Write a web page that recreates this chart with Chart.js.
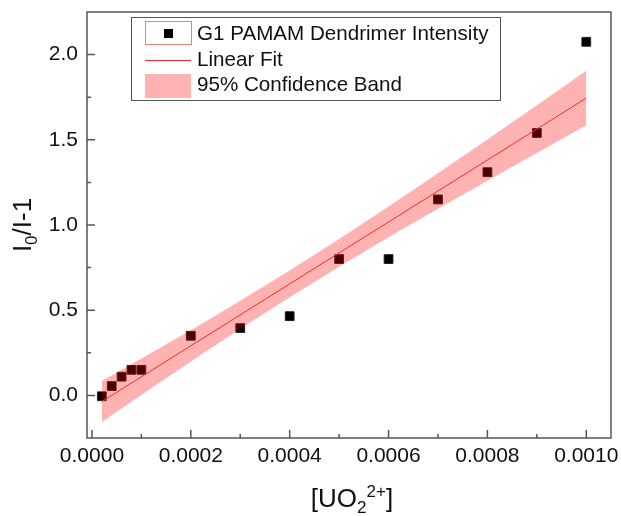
<!DOCTYPE html>
<html>
<head>
<meta charset="utf-8">
<script src="https://cdn.jsdelivr.net/npm/chart.js@4.4.1/dist/chart.umd.min.js"></script>
<style>
  body { margin: 0; background: #fff; }
</style>
</head>
<body>
<canvas id="chart" width="621" height="516"></canvas>
<script>
// values
const conc = [0.00002, 0.00004, 0.00006, 0.00008, 0.0001, 0.0002, 0.0003, 0.0004, 0.0005, 0.0006, 0.0007, 0.0008, 0.0009, 0.001];
const intensity = [-0.005, 0.055, 0.11, 0.15, 0.15, 0.35, 0.395, 0.465, 0.80, 0.80, 1.15, 1.31, 1.54, 2.075];

// linear fit end points
const fitX = [0.00002, 0.001];
const fitY = [-0.036, 1.745];

// 95% confidence band edges
const bandX = [0.00002, 0.0001, 0.0002, 0.0003, 0.0004, 0.0005, 0.0006, 0.0007, 0.0008, 0.0009, 0.001];
const bandUpper = [0.084, 0.216, 0.383, 0.555, 0.733, 0.918, 1.108, 1.304, 1.502, 1.703, 1.905];
const bandLower = [-0.156, 0.003, 0.199, 0.391, 0.576, 0.755, 0.928, 1.095, 1.260, 1.423, 1.585];

const xTicks = [0, 0.0002, 0.0004, 0.0006, 0.0008, 0.001];
const yTicks = [0, 0.5, 1.0, 1.5, 2.0];
const legendLabels = ["G1 PAMAM Dendrimer Intensity", "Linear Fit", "95% Confidence Band"];

const pts = (xs, ys) => xs.map((x, i) => ({ x: x, y: ys[i] }));

const FONT = "'Liberation Sans', Arial, sans-serif";
const BAND = "rgba(255,0,0,0.3)";
Chart.defaults.font.family = FONT;

// no extra room for end labels, the frame is fixed
const noPad = s => { s.paddingTop = 0; s.paddingBottom = 0; s.paddingLeft = 0; s.paddingRight = 0; };

// frame, inward ticks, axis titles and legend box
const decor = {
  id: "decor",
  afterDraw(c) {
    const { ctx, chartArea: a, scales: { x, y } } = c;
    ctx.save();

    // ticks
    ctx.strokeStyle = "#555";
    ctx.lineWidth = 1.5;
    ctx.beginPath();
    for (let i = 0; i <= 10; i++) {
      const px = x.getPixelForValue(i * 0.0001);
      const len = i % 2 ? 4 : 8;
      ctx.moveTo(px, a.bottom);
      ctx.lineTo(px, a.bottom - len);
    }
    for (let i = 0; i <= 8; i++) {
      const py = y.getPixelForValue(i * 0.25);
      const len = i % 2 ? 4 : 8;
      ctx.moveTo(a.left, py);
      ctx.lineTo(a.left + len, py);
    }
    ctx.stroke();
    ctx.strokeRect(a.left, a.top, a.right - a.left, a.bottom - a.top);

    // x title: [UO2 2+]
    ctx.fillStyle = "#111";
    ctx.textBaseline = "alphabetic";
    ctx.textAlign = "left";
    const big = "26px " + FONT, small = "17px " + FONT;
    ctx.font = big;
    const w1 = ctx.measureText("[UO").width, w4 = ctx.measureText("]").width;
    ctx.font = small;
    const w2 = ctx.measureText("2").width, w3 = ctx.measureText("2+").width;
    let tx = (a.left + a.right) / 2 + 3 - (w1 + w2 + w3 + w4) / 2;
    const by = 507;
    ctx.font = big; ctx.fillText("[UO", tx, by); tx += w1;
    ctx.font = small; ctx.fillText("2", tx, by + 6); tx += w2;
    ctx.fillText("2+", tx, by - 10); tx += w3;
    ctx.font = big; ctx.fillText("]", tx, by);

    // y title: I0/I-1
    ctx.save();
    ctx.translate(31, (a.top + a.bottom) / 2);
    ctx.rotate(-Math.PI / 2);
    ctx.font = big;
    const v1 = ctx.measureText("I").width, v3 = ctx.measureText("/I-1").width;
    ctx.font = small;
    const v2 = ctx.measureText("0").width;
    let ty = -(v1 + v2 + v3) / 2;
    ctx.font = big; ctx.fillText("I", ty, 0); ty += v1;
    ctx.font = small; ctx.fillText("0", ty, 6); ty += v2;
    ctx.font = big; ctx.fillText("/I-1", ty, 0);
    ctx.restore();

    // legend
    ctx.fillStyle = "#fff";
    ctx.fillRect(131, 17, 369, 83);
    ctx.strokeStyle = "#555";
    ctx.lineWidth = 1;
    ctx.strokeRect(131.5, 17.5, 369, 83);

    ctx.strokeStyle = "#ff7878";
    ctx.strokeRect(145.5, 21.5, 46, 23);
    ctx.fillStyle = "#000";
    ctx.fillRect(164, 29, 9, 9);

    ctx.strokeStyle = "rgb(255,40,40)";
    ctx.beginPath();
    ctx.moveTo(145, 60.5);
    ctx.lineTo(191, 60.5);
    ctx.stroke();

    ctx.fillStyle = BAND;
    ctx.fillRect(145, 74, 46, 24);

    ctx.fillStyle = "#111";
    ctx.font = "20.6px " + FONT;
    ctx.textBaseline = "middle";
    [34, 60, 85].forEach((yy, i) => ctx.fillText(legendLabels[i], 197, yy));

    ctx.restore();
  }
};

new Chart(document.getElementById("chart"), {
  type: "scatter",
  data: {
    datasets: [
      {
        label: "lower",
        data: pts(bandX, bandLower),
        showLine: true,
        pointRadius: 0,
        borderWidth: 0,
        borderColor: "rgba(0,0,0,0)",
        fill: false,
        order: 1
      },
      {
        label: legendLabels[2],
        data: pts(bandX, bandUpper),
        showLine: true,
        pointRadius: 0,
        borderWidth: 0,
        borderColor: "rgba(0,0,0,0)",
        backgroundColor: BAND,
        fill: "-1",
        order: 1
      },
      {
        label: legendLabels[1],
        data: pts(fitX, fitY),
        showLine: true,
        pointRadius: 0,
        borderWidth: 1,
        borderColor: "rgb(255,40,40)",
        order: 0
      },
      {
        label: legendLabels[0],
        data: pts(conc, intensity),
        pointStyle: "rect",
        pointRadius: 6.2,
        backgroundColor: "#000",
        borderColor: "#222",
        borderWidth: 1,
        order: 3
      }
    ]
  },
  options: {
    responsive: false,
    animation: false,
    layout: { padding: { top: 12, right: 10, left: 0, bottom: 0 } },
    plugins: {
      legend: { display: false },
      tooltip: { enabled: false }
    },
    scales: {
      x: {
        type: "linear",
        min: -0.00001,
        max: 0.00105,
        grid: { display: false, drawTicks: false },
        border: { display: false },
        afterBuildTicks: s => { s.ticks = xTicks.map(v => ({ value: v })); },
        afterFit: s => { s.height = 78; noPad(s); },
        ticks: {
          padding: 6,
          color: "#111",
          font: { size: 21 },
          maxRotation: 0,
          callback: v => v.toFixed(4)
        }
      },
      y: {
        type: "linear",
        min: -0.25,
        max: 2.25,
        grid: { display: false, drawTicks: false },
        border: { display: false },
        afterBuildTicks: s => { s.ticks = yTicks.map(v => ({ value: v })); },
        afterFit: s => { s.width = 87; noPad(s); },
        ticks: {
          padding: 9,
          color: "#111",
          font: { size: 21 },
          callback: v => v.toFixed(1)
        }
      }
    }
  },
  plugins: [decor]
});
</script>
</body>
</html>
